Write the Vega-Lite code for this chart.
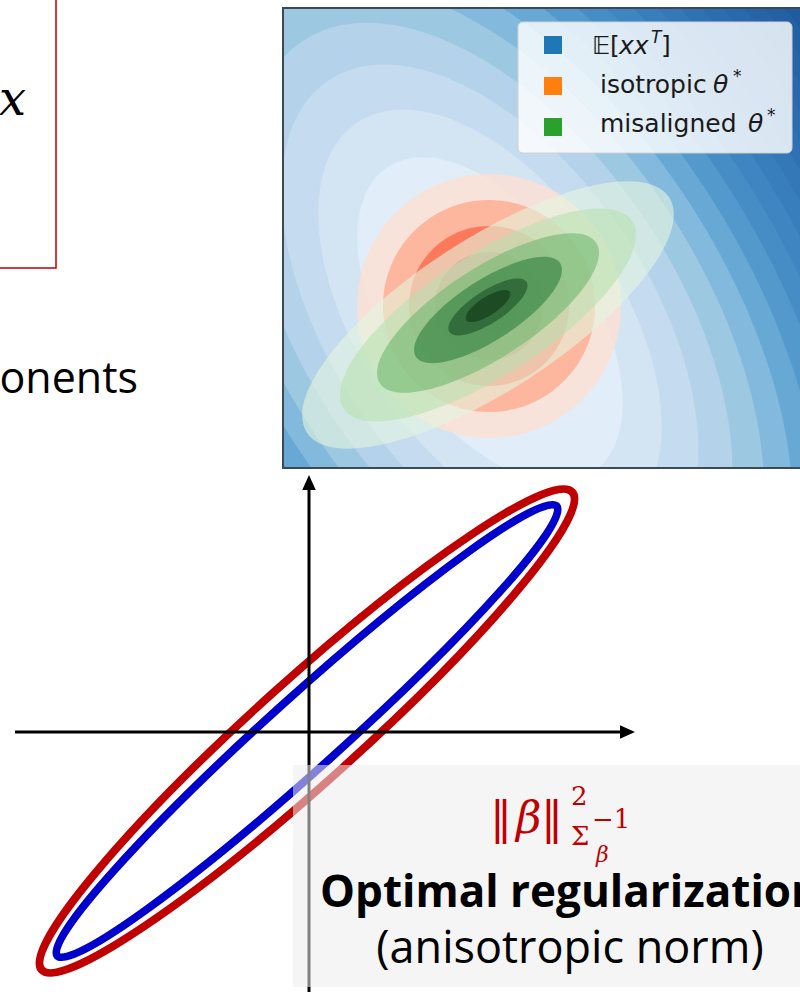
{
  "$schema": "https://vega.github.io/schema/vega-lite/v6.json",
  "width": 800,
  "height": 992,
  "padding": 0,
  "autosize": {"type": "none"},
  "background": "white",
  "config": {"view": {"stroke": null}},
  "datasets": {
    "blue_levels": [
      {"level": 17, "x": 490, "y": 320, "a": 809},
      {"level": 16, "x": 490, "y": 320, "a": 767},
      {"level": 15, "x": 490, "y": 320, "a": 738},
      {"level": 14, "x": 490, "y": 320, "a": 709},
      {"level": 13, "x": 490, "y": 320, "a": 680},
      {"level": 12, "x": 490, "y": 320, "a": 651},
      {"level": 11, "x": 490, "y": 320, "a": 622},
      {"level": 10, "x": 490, "y": 320, "a": 593},
      {"level": 9, "x": 490, "y": 320, "a": 562},
      {"level": 8, "x": 490, "y": 320, "a": 529},
      {"level": 7, "x": 490, "y": 320, "a": 495},
      {"level": 6, "x": 490, "y": 320, "a": 458},
      {"level": 5, "x": 490, "y": 320, "a": 420},
      {"level": 4, "x": 490, "y": 320, "a": 380},
      {"level": 3, "x": 490, "y": 320, "a": 336},
      {"level": 2, "x": 490, "y": 320, "a": 289},
      {"level": 1, "x": 490, "y": 320, "a": 238},
      {"level": 0, "x": 490, "y": 320, "a": 184}
    ],
    "red_levels": [
      {"level": 4, "x": 489, "y": 306, "a": 132},
      {"level": 3, "x": 489, "y": 306, "a": 106},
      {"level": 2, "x": 489, "y": 306, "a": 80},
      {"level": 1, "x": 489, "y": 306, "a": 54},
      {"level": 0, "x": 489, "y": 306, "a": 28}
    ],
    "green_levels": [
      {"level": 5, "x": 488, "y": 315, "a": 216},
      {"level": 4, "x": 488, "y": 315, "a": 172},
      {"level": 3, "x": 488, "y": 313, "a": 129},
      {"level": 2, "x": 488, "y": 310, "a": 86},
      {"level": 1, "x": 488, "y": 307, "a": 46},
      {"level": 0, "x": 488, "y": 306, "a": 26}
    ],
    "masks": [
      {"x": -20, "x2": 283, "y": -20, "y2": 470},
      {"x": 283, "x2": 820, "y": -20, "y2": 8},
      {"x": -20, "x2": 820, "y": 468, "y2": 1010}
    ],
    "panel": [{"x": 283, "x2": 806, "y": 8, "y2": 468}],
    "legend_box": [{"x": 518, "x2": 792, "y": 22, "y2": 153}],
    "legend_keys": [
      {"series": "E[xx^T]", "x": 553, "y": 45},
      {"series": "isotropic", "x": 553, "y": 86},
      {"series": "misaligned", "x": 553, "y": 127}
    ],
    "legend_plain": [
      {"x": 592, "y": 54, "label": "𝔼"},
      {"x": 610, "y": 54, "label": "["},
      {"x": 661, "y": 54, "label": "]"},
      {"x": 600, "y": 93, "label": "isotropic"},
      {"x": 600, "y": 132, "label": "misaligned"}
    ],
    "legend_italic": [
      {"x": 619, "y": 54, "label": "xx"},
      {"x": 713, "y": 93, "label": "θ"},
      {"x": 748, "y": 132, "label": "θ"}
    ],
    "legend_sup": [
      {"x": 651, "y": 43, "label": "T"},
      {"x": 733, "y": 82, "label": "*"},
      {"x": 767, "y": 121, "label": "*"}
    ],
    "red_box": [{"x": -10, "x2": 56, "y": -10, "y2": 268}],
    "var_x": [{"x": 26, "y": 115, "label": "x"}],
    "heading": [{"x": 138, "y": 393, "label": "onents"}],
    "norms": [
      {"norm": "regularizer", "x": 307, "y": 731, "a": 357},
      {"norm": "covariance", "x": 307, "y": 731, "a": 336}
    ],
    "axes": [
      {"x": 15, "x2": 622, "y": 732, "y2": 732},
      {"x": 309, "x2": 309, "y": 490, "y2": 992}
    ],
    "arrow_x": [{"x": 627.5, "y": 732}],
    "arrow_y": [{"x": 309, "y": 482.5}],
    "caption_box": [{"x": 293, "x2": 810, "y": 765, "y2": 987}],
    "norm_bars": [
      {"x": 490, "y": 833, "label": "‖"},
      {"x": 541, "y": 833, "label": "‖"}
    ],
    "norm_beta": [{"x": 516, "y": 833, "label": "β"}],
    "norm_scripts": [
      {"x": 571, "y": 805, "label": "2"},
      {"x": 571, "y": 845, "label": "Σ"},
      {"x": 592, "y": 828, "label": "−1"}
    ],
    "norm_sub_beta": [{"x": 596, "y": 862, "label": "β"}],
    "caption_bold": [{"x": 570, "y": 907, "label": "Optimal regularization"}],
    "caption_plain": [{"x": 570, "y": 963, "label": "(anisotropic norm)"}]
  },
  "encoding": {
    "x": {"field": "x", "type": "quantitative", "scale": {"domain": [0, 800], "nice": false, "zero": false}, "axis": null},
    "y": {"field": "y", "type": "quantitative", "scale": {"domain": [0, 992], "nice": false, "zero": false, "reverse": true}, "axis": null}
  },
  "layer": [
    {
      "data": {"name": "blue_levels"},
      "mark": {"type": "point", "filled": true, "opacity": 1, "strokeWidth": 0, "angle": 56,
        "shape": "M1,0C1,0.3038 0.5523,0.55 0,0.55C-0.5523,0.55 -1,0.3038 -1,0C-1,-0.3038 -0.5523,-0.55 0,-0.55C0.5523,-0.55 1,-0.3038 1,0Z"},
      "encoding": {
        "size": {"field": "a", "type": "quantitative", "scale": {"type": "pow", "exponent": 2, "domain": [0, 1000], "range": [0, 4000000]}, "legend": null},
        "color": {"field": "level", "type": "ordinal", "legend": null,
          "scale": {"domain": [0, 1, 2, 3, 4, 5, 6, 7, 8, 9, 10, 11, 12, 13, 14, 15, 16, 17],
            "range": ["#e1edf8", "#d3e4f3", "#c5dbef", "#b4d3ea", "#9dc8e2", "#82b9dc", "#67a8d4", "#5499cc", "#478dc5", "#3f85c1", "#397ebc", "#3478b8", "#2f72b4", "#2c6db0", "#2968ac", "#2664a8", "#2360a4", "#205ba0"]}}
      }
    },
    {
      "data": {"name": "red_levels"},
      "mark": {"type": "point", "filled": true, "opacity": 0.8, "strokeWidth": 0,
        "shape": "M1,0C1,0.5523 0.5523,1 0,1C-0.5523,1 -1,0.5523 -1,0C-1,-0.5523 -0.5523,-1 0,-1C0.5523,-1 1,-0.5523 1,0Z"},
      "encoding": {
        "size": {"field": "a", "type": "quantitative", "scale": {"type": "pow", "exponent": 2, "domain": [0, 1000], "range": [0, 4000000]}, "legend": null},
        "color": {"field": "level", "type": "ordinal", "legend": null,
          "scale": {"domain": [0, 1, 2, 3, 4], "range": ["#c0141a", "#e53228", "#fb6a4a", "#fcab8f", "#fee0d2"]}}
      }
    },
    {
      "data": {"name": "green_levels"},
      "mark": {"type": "point", "filled": true, "opacity": 0.6, "strokeWidth": 0, "angle": 327,
        "shape": "M1,0C1,0.1933 0.5523,0.35 0,0.35C-0.5523,0.35 -1,0.1933 -1,0C-1,-0.1933 -0.5523,-0.35 0,-0.35C0.5523,-0.35 1,-0.1933 1,0Z"},
      "encoding": {
        "size": {"field": "a", "type": "quantitative", "scale": {"type": "pow", "exponent": 2, "domain": [0, 1000], "range": [0, 4000000]}, "legend": null},
        "color": {"field": "level", "type": "ordinal", "legend": null,
          "scale": {"domain": [0, 1, 2, 3, 4, 5], "range": ["#0f3516", "#1a5026", "#2f7f3e", "#6fb870", "#b9e1b0", "#e5f5e0"]}}
      }
    },
    {
      "data": {"name": "masks"},
      "mark": {"type": "rect", "fill": "white", "strokeWidth": 0},
      "encoding": {"x2": {"field": "x2"}, "y2": {"field": "y2"}}
    },
    {
      "data": {"name": "panel"},
      "mark": {"type": "rect", "fill": null, "stroke": "#3c4a55", "strokeWidth": 2},
      "encoding": {"x2": {"field": "x2"}, "y2": {"field": "y2"}}
    },
    {
      "data": {"name": "legend_box"},
      "mark": {"type": "rect", "fill": "white", "fillOpacity": 0.82, "stroke": "#d0d0d0", "strokeWidth": 1, "cornerRadius": 5},
      "encoding": {"x2": {"field": "x2"}, "y2": {"field": "y2"}}
    },
    {
      "data": {"name": "legend_keys"},
      "mark": {"type": "point", "shape": "square", "filled": true, "opacity": 1, "size": 324, "strokeWidth": 0},
      "encoding": {
        "color": {"field": "series", "type": "nominal", "legend": null,
          "scale": {"domain": ["E[xx^T]", "isotropic", "misaligned"], "range": ["#1f77b4", "#ff7f0e", "#2ca02c"]}}
      }
    },
    {
      "data": {"name": "legend_plain"},
      "mark": {"type": "text", "align": "left", "baseline": "alphabetic", "font": "DejaVu Sans", "fontSize": 25, "color": "#1a1a1a"},
      "encoding": {"text": {"field": "label"}}
    },
    {
      "data": {"name": "legend_italic"},
      "mark": {"type": "text", "align": "left", "baseline": "alphabetic", "font": "DejaVu Sans", "fontStyle": "italic", "fontSize": 25, "color": "#1a1a1a"},
      "encoding": {"text": {"field": "label"}}
    },
    {
      "data": {"name": "legend_sup"},
      "mark": {"type": "text", "align": "left", "baseline": "alphabetic", "font": "DejaVu Sans", "fontStyle": "italic", "fontSize": 17, "color": "#1a1a1a"},
      "encoding": {"text": {"field": "label"}}
    },
    {
      "data": {"name": "red_box"},
      "mark": {"type": "rect", "fill": null, "stroke": "#c00000", "strokeWidth": 1.5},
      "encoding": {"x2": {"field": "x2"}, "y2": {"field": "y2"}}
    },
    {
      "data": {"name": "var_x"},
      "mark": {"type": "text", "align": "right", "baseline": "alphabetic", "font": "DejaVu Serif", "fontStyle": "italic", "fontSize": 48, "color": "black"},
      "encoding": {"text": {"field": "label"}}
    },
    {
      "data": {"name": "heading"},
      "mark": {"type": "text", "align": "right", "baseline": "alphabetic", "font": "Open Sans", "fontSize": 43, "color": "black"},
      "encoding": {"text": {"field": "label"}}
    },
    {
      "data": {"name": "norms"},
      "transform": [{"filter": "datum.norm === 'regularizer'"}],
      "mark": {"type": "point", "filled": false, "opacity": 1, "stroke": "#c00000", "strokeWidth": 8, "angle": 318,
        "shape": "M1,0C1,0.079 0.5523,0.143 0,0.143C-0.5523,0.143 -1,0.079 -1,0C-1,-0.079 -0.5523,-0.143 0,-0.143C0.5523,-0.143 1,-0.079 1,0Z"},
      "encoding": {
        "size": {"field": "a", "type": "quantitative", "scale": {"type": "pow", "exponent": 2, "domain": [0, 1000], "range": [0, 4000000]}, "legend": null}
      }
    },
    {
      "data": {"name": "norms"},
      "transform": [{"filter": "datum.norm === 'covariance'"}],
      "mark": {"type": "point", "filled": false, "opacity": 1, "stroke": "#0000cc", "strokeWidth": 8, "angle": 318,
        "shape": "M1,0C1,0.0591 0.5523,0.107 0,0.107C-0.5523,0.107 -1,0.0591 -1,0C-1,-0.0591 -0.5523,-0.107 0,-0.107C0.5523,-0.107 1,-0.0591 1,0Z"},
      "encoding": {
        "size": {"field": "a", "type": "quantitative", "scale": {"type": "pow", "exponent": 2, "domain": [0, 1000], "range": [0, 4000000]}, "legend": null}
      }
    },
    {
      "data": {"name": "axes"},
      "mark": {"type": "rule", "color": "black", "strokeWidth": 3},
      "encoding": {"x2": {"field": "x2"}, "y2": {"field": "y2"}}
    },
    {
      "data": {"name": "arrow_x"},
      "mark": {"type": "point", "filled": true, "opacity": 1, "color": "black", "size": 225, "strokeWidth": 0, "shape": "M1,0L-1,-0.9L-1,0.9Z"}
    },
    {
      "data": {"name": "arrow_y"},
      "mark": {"type": "point", "filled": true, "opacity": 1, "color": "black", "size": 225, "strokeWidth": 0, "shape": "M0,-1L-0.9,1L0.9,1Z"}
    },
    {
      "data": {"name": "caption_box"},
      "mark": {"type": "rect", "fill": "#ececec", "fillOpacity": 0.55, "strokeWidth": 0},
      "encoding": {"x2": {"field": "x2"}, "y2": {"field": "y2"}}
    },
    {
      "data": {"name": "norm_bars"},
      "mark": {"type": "text", "align": "left", "baseline": "alphabetic", "font": "DejaVu Serif", "fontSize": 44, "color": "#c00000"},
      "encoding": {"text": {"field": "label"}}
    },
    {
      "data": {"name": "norm_beta"},
      "mark": {"type": "text", "align": "left", "baseline": "alphabetic", "font": "DejaVu Serif", "fontStyle": "italic", "fontSize": 44, "color": "#c00000"},
      "encoding": {"text": {"field": "label"}}
    },
    {
      "data": {"name": "norm_scripts"},
      "mark": {"type": "text", "align": "left", "baseline": "alphabetic", "font": "DejaVu Serif", "fontSize": 26, "color": "#c00000"},
      "encoding": {"text": {"field": "label"}}
    },
    {
      "data": {"name": "norm_sub_beta"},
      "mark": {"type": "text", "align": "left", "baseline": "alphabetic", "font": "DejaVu Serif", "fontStyle": "italic", "fontSize": 22, "color": "#c00000"},
      "encoding": {"text": {"field": "label"}}
    },
    {
      "data": {"name": "caption_bold"},
      "mark": {"type": "text", "align": "center", "baseline": "alphabetic", "font": "Open Sans", "fontWeight": "bold", "fontSize": 44, "color": "black"},
      "encoding": {"text": {"field": "label"}}
    },
    {
      "data": {"name": "caption_plain"},
      "mark": {"type": "text", "align": "center", "baseline": "alphabetic", "font": "Open Sans", "fontSize": 45, "color": "black"},
      "encoding": {"text": {"field": "label"}}
    }
  ],
  "resolve": {"scale": {"color": "independent", "size": "independent"}}
}
